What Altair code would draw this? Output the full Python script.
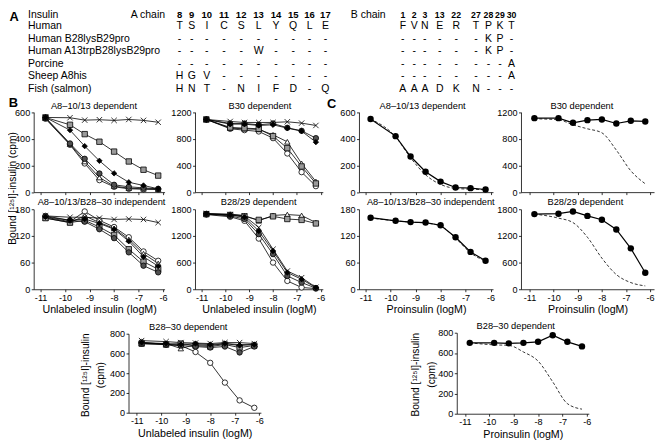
import altair as alt
import pandas as pd

# ------------------------------------------------------------------ data
INSULINS = ["Human", "Human B28lysB29pro", "Human A13trpB28lysB29pro",
            "Porcine", "Sheep A8his", "Fish (salmon)"]
A_POS = ["8", "9", "10", "11", "12", "13", "14", "15", "16", "17"]
B_POS = ["1", "2", "3", "13", "22", "27", "28", "29", "30"]
A_RES = ["TSICSLYQLE", "----------", "-----W----", "----------", "HGV-------", "HNT-NIFD-Q"]
B_RES = ["FVNERTPKT", "------KP-", "------KP-", "--------A", "--------A", "AAADKN---"]

X_LOG = [-10.8, -9.8, -9.2, -8.6, -8.0, -7.4, -6.8, -6.2]
X_TICKS = [-11, -10, -9, -8, -7, -6]

# panel B : unlabeled insulins (order = INSULINS)
B_A8_13 = [
    [550, 355, 215, 90, 40, 25, 22, 20],
    [555, 360, 230, 110, 45, 30, 25, 22],
    [560, 505, 435, 378, 304, 230, 168, 124],
    [560, 365, 250, 140, 55, 40, 32, 25],
    [560, 465, 345, 235, 141, 74, 50, 25],
    [560, 558, 540, 543, 538, 545, 538, 524],
]
B_B30 = [
    [1090, 950, 930, 910, 810, 580, 300, 90],
    [1090, 960, 950, 940, 860, 755, 430, 160],
    [1090, 970, 960, 950, 840, 660, 385, 130],
    [1090, 1030, 1030, 1010, 1030, 965, 920, 810],
    [1090, 1020, 1020, 1000, 1010, 960, 915, 750],
    [1090, 1060, 1045, 1045, 1045, 1055, 1035, 1000],
]
B_INDEP = [
    [162, 152, 175, 155, 140, 117, 85, 64],
    [160, 150, 165, 150, 137, 112, 80, 58],
    [160, 150, 155, 140, 122, 90, 62, 45],
    [165, 155, 152, 135, 115, 83, 53, 38],
    [163, 155, 158, 148, 135, 108, 73, 52],
    [165, 162, 162, 160, 157, 158, 157, 150],
]
B_B2829 = [
    [1680, 1630, 1540, 1140, 600, 187, 40, 15],
    [1700, 1690, 1660, 1540, 1660, 1680, 1660, 1500],
    [1690, 1670, 1640, 1560, 1640, 1580, 1560, 1480],
    [1690, 1650, 1580, 1240, 790, 300, 150, 25],
    [1700, 1670, 1620, 1310, 860, 375, 225, 35],
    [1700, 1680, 1650, 1390, 900, 410, 260, 45],
]
B_B2830 = [
    [715, 690, 680, 615, 505, 305, 125, 50],
    [700, 700, 650, 690, 680, 700, 690, 690],
    [700, 690, 700, 680, 670, 690, 660, 680],
    [700, 690, 680, 670, 660, 670, 610, 670],
    [710, 700, 690, 700, 690, 700, 680, 690],
    [730, 720, 710, 705, 700, 710, 710, 700],
]

# panel C : proinsulin (dots) and insulin reference curve (dashed)
C1_PRO = [548, 420, 267, 153, 79, 35, 30, 20]
C1_REF = [548, 415, 258, 130, 58, 28, 22, 18]
C2_PRO = [1110, 1110, 1040, 1080, 1090, 1030, 1070, 1060]
C2_REF = [1100, 1085, 1010, 950, 890, 630, 320, 125]
C3_PRO = [161, 154, 151, 150, 144, 117, 84, 64]
C3_REF = [160, 154, 151, 149, 142, 115, 82, 63]
C4_PRO = [1690, 1700, 1750, 1650, 1565, 1345, 920, 370]
C4_REF = [1690, 1600, 1500, 1170, 700, 330, 150, 75]
C5_PRO = [700, 700, 695, 700, 710, 775, 710, 665]
C5_REF = [700, 680, 675, 610, 520, 315, 100, 45]

# ------------------------------------------------------------------ layout / style
OFF = 8
W, H = 657, 440
FONT = "Arial"
X_PATH = "M-1,-1L1,1M-1,1L1,-1"
SHAPES = ["circle", "triangle-up", "square", "circle", "diamond", X_PATH]
FILLS = ["white", "white", "#9a9a9a", "#505050", "black", "transparent"]

TAB_FS = 10.6
HEAD_FS = 9.6
HEAD_FS_B = 8.8
PT_FS = 9.4      # panel titles
YT_FS = 10.3     # rotated y titles
AX_TITLE_FS = 10.8
AX_LABEL_FS = 9.2

ROW_Y = [12.6, 23.6, 36.3, 49.0, 61.8, 74.6, 87.4]
NAME_X = 28.3
A_COL_X = [181.7, 194.0, 209.3, 226.7, 244.0, 261.7, 279.3, 296.7, 313.3, 329.3]
B_COL_X = [407.7, 419.3, 430.0, 445.0, 461.7, 481.7, 494.3, 506.0, 517.7]

XB_L = dict(xl=34.0, xr=166.5, p11=41.0, p6=165.0)
XB_R = dict(xl=197.3, xr=326.7, p11=204.0, p6=324.5)
XB_B = dict(xl=130.0, xr=264.0, p11=138.3, p6=262.3)
XC_L = dict(xl=363.3, xr=499.0, p11=370.0, p6=496.5)
XC_R = dict(xl=527.3, xr=662.0, p11=536.0, p6=658.0)
XC_B = dict(xl=462.3, xr=596.0, p11=470.5, p6=594.0)
ROW1 = dict(yb=191.7, yt=110.7)
ROW2 = dict(yb=290.0, yt=209.0)
ROW3 = dict(yb=415.0, yt=335.0)
ROW3C = dict(yb=416.0, yt=334.0)


def encs(xp, yp, ymax, yticks, xlab, xtitle):
    u = (xp["p6"] - xp["p11"]) / 5.0
    d0 = -11 - (xp["p11"] - xp["xl"]) / u
    d1 = -6 + (xp["xr"] - xp["p6"]) / u
    x = alt.X("x:Q",
              scale=alt.Scale(domain=[d0, d1], range=[xp["xl"] - OFF, xp["xr"] - OFF], nice=False, zero=False),
              axis=alt.Axis(orient="bottom", offset=(yp["yb"] - OFF) - H, values=X_TICKS,
                            labels=xlab, title=xtitle, labelExpr="datum.value + ''"))
    y = alt.Y("y:Q",
              scale=alt.Scale(domain=[0, ymax], range=[yp["yb"] - OFF, yp["yt"] - OFF], nice=False, zero=False),
              axis=alt.Axis(orient="left", offset=-(xp["xl"] - OFF), values=yticks, title=None,
                            labelExpr="datum.value + ''"))
    return x, y


def b_panel(vals, xp, yp, ymax, yticks, xlab, xtitle):
    rows = []
    for s, name in enumerate(INSULINS):
        for xv, yv in zip(X_LOG, vals[s]):
            rows.append({"series": name, "x": xv, "y": yv})
    df = pd.DataFrame(rows)
    x, y = encs(xp, yp, ymax, yticks, xlab, xtitle)
    line = alt.Chart(df).mark_line(color="black", strokeWidth=0.8).encode(x=x, y=y, detail="series:N")
    pts = alt.Chart(df).mark_point(opacity=1, size=30, strokeWidth=0.8, stroke="black").encode(
        x=x, y=y,
        shape=alt.Shape("series:N", scale=alt.Scale(domain=INSULINS, range=SHAPES), legend=None),
        fill=alt.Fill("series:N", scale=alt.Scale(domain=INSULINS, range=FILLS), legend=None),
    )
    return alt.layer(line, pts)


def c_panel(pro, ref, xp, yp, ymax, yticks, xlab, xtitle):
    dpro = pd.DataFrame({"x": X_LOG, "y": pro})
    dref = pd.DataFrame({"x": X_LOG, "y": ref})
    x, y = encs(xp, yp, ymax, yticks, xlab, xtitle)
    dash = alt.Chart(dref).mark_line(color="black", strokeWidth=0.8, strokeDash=[3, 2],
                                     interpolate="monotone").encode(x=x, y=y)
    line = alt.Chart(dpro).mark_line(color="black", strokeWidth=1.2).encode(x=x, y=y)
    pts = alt.Chart(dpro).mark_circle(color="black", opacity=1, size=42).encode(x=x, y=y)
    return alt.layer(dash, line, pts)


def txt(t, x, y, size=PT_FS, angle=0, weight="normal", align="center"):
    return alt.Chart(pd.DataFrame({"t": [t]})).mark_text(
        font=FONT, fontSize=size, angle=angle, fontWeight=weight, align=align,
        baseline="middle", color="black").encode(
        x=alt.value(x - OFF), y=alt.value(y - OFF), text="t:N")


# ---------------- table A
heads_a = pd.DataFrame({"t": A_POS, "px": [x - OFF for x in A_COL_X], "py": ROW_Y[0] - OFF})
heads_b = pd.DataFrame({"t": B_POS, "px": [x - OFF for x in B_COL_X], "py": ROW_Y[0] - OFF})
cells = []
for r in range(len(INSULINS)):
    for i, ch in enumerate(A_RES[r]):
        cells.append({"t": ch, "px": A_COL_X[i] - OFF, "py": ROW_Y[r + 1] - OFF})
    for i, ch in enumerate(B_RES[r]):
        cells.append({"t": ch, "px": B_COL_X[i] - OFF, "py": ROW_Y[r + 1] - OFF})
cell_df = pd.DataFrame(cells)
names_df = pd.DataFrame({"t": ["Insulin"] + INSULINS,
                         "py": [y - OFF for y in ROW_Y]})


def table_text(df, size, weight="normal"):
    return alt.Chart(df).mark_text(font=FONT, fontSize=size, fontWeight=weight, baseline="middle",
                                   color="black").encode(
        x=alt.X("px:Q", scale=None, axis=None), y=alt.Y("py:Q", scale=None, axis=None), text="t:N")


tab_names = alt.Chart(names_df).mark_text(font=FONT, fontSize=TAB_FS, baseline="middle", align="left",
                                          color="black").encode(
    x=alt.value(NAME_X - OFF), y=alt.Y("py:Q", scale=None, axis=None), text="t:N")

BOUND = "Bound [\u00b9\u00b2\u2075I]-insulin"

layers = [
    table_text(heads_a, HEAD_FS, "bold"), table_text(heads_b, HEAD_FS_B, "bold"),
    table_text(cell_df, TAB_FS), tab_names,
    txt("A chain", 167, ROW_Y[0], TAB_FS, align="right"),
    txt("B chain", 355, ROW_Y[0], TAB_FS, align="left"),
    txt("A", 9.5, 14, 13, weight="bold", align="left"),
    txt("B", 8.8, 101.5, 13, weight="bold", align="left"),
    txt("C", 331, 103, 13, weight="bold", align="left"),
    b_panel(B_A8_13, XB_L, ROW1, 600, [0, 200, 400, 600], False, None),
    b_panel(B_B30, XB_R, ROW1, 1200, [0, 400, 800, 1200], False, None),
    b_panel(B_INDEP, XB_L, ROW2, 180, [0, 60, 120, 180], True, "Unlabeled insulin (logM)"),
    b_panel(B_B2829, XB_R, ROW2, 1800, [0, 600, 1200, 1800], True, "Unlabeled insulin (logM)"),
    b_panel(B_B2830, XB_B, ROW3, 800, [0, 200, 400, 600, 800], True, "Unlabeled insulin (logM)"),
    c_panel(C1_PRO, C1_REF, XC_L, ROW1, 600, [0, 200, 400, 600], False, None),
    c_panel(C2_PRO, C2_REF, XC_R, ROW1, 1200, [0, 400, 800, 1200], False, None),
    c_panel(C3_PRO, C3_REF, XC_L, ROW2, 180, [0, 60, 120, 180], True, "Proinsulin (logM)"),
    c_panel(C4_PRO, C4_REF, XC_R, ROW2, 1800, [0, 600, 1200, 1800], True, "Proinsulin (logM)"),
    c_panel(C5_PRO, C5_REF, XC_B, ROW3C, 800, [0, 200, 400, 600, 800], True, "Proinsulin (logM)"),
    txt("A8\u201310/13 dependent", 95, 105),
    txt("B30 dependent", 263, 105),
    txt("A8\u201310/13/B28\u201330 independent", 102.7, 201.5),
    txt("B28/29 dependent", 261.7, 202),
    txt("B28\u201330 dependent", 190.5, 328),
    txt("A8\u201310/13 dependent", 427.7, 105),
    txt("B30 dependent", 589, 105),
    txt("A8\u201310/13/B28\u201330 independent", 436, 201.7),
    txt("B28/29 dependent", 592.5, 201.7),
    txt("B28\u201330 dependent", 522, 327),
    txt(BOUND + " (cpm)", 13, 188, YT_FS, angle=270),
    txt(BOUND, 86.5, 377, YT_FS, angle=270),
    txt("(cpm)", 102, 377, YT_FS, angle=270),
    txt(BOUND, 421.5, 376.5, YT_FS, angle=270),
    txt("(cpm)", 437.5, 376.5, YT_FS, angle=270),
]

chart = alt.layer(*layers).resolve_scale(x="independent", y="independent").properties(
    width=W, height=H, padding=0, autosize="none", background="white"
).configure_view(stroke=None).configure_axis(
    grid=False, domainColor="black", tickColor="black", labelColor="black", titleColor="black",
    domainWidth=0.8, tickWidth=0.8, tickSize=2.5, labelFont=FONT, labelFontSize=AX_LABEL_FS, labelPadding=1.5,
    titleFont=FONT, titleFontSize=AX_TITLE_FS, titleFontWeight="normal", titlePadding=1.5,
)

chart.save("out.html", embed_options={"renderer": "svg", "actions": False})
